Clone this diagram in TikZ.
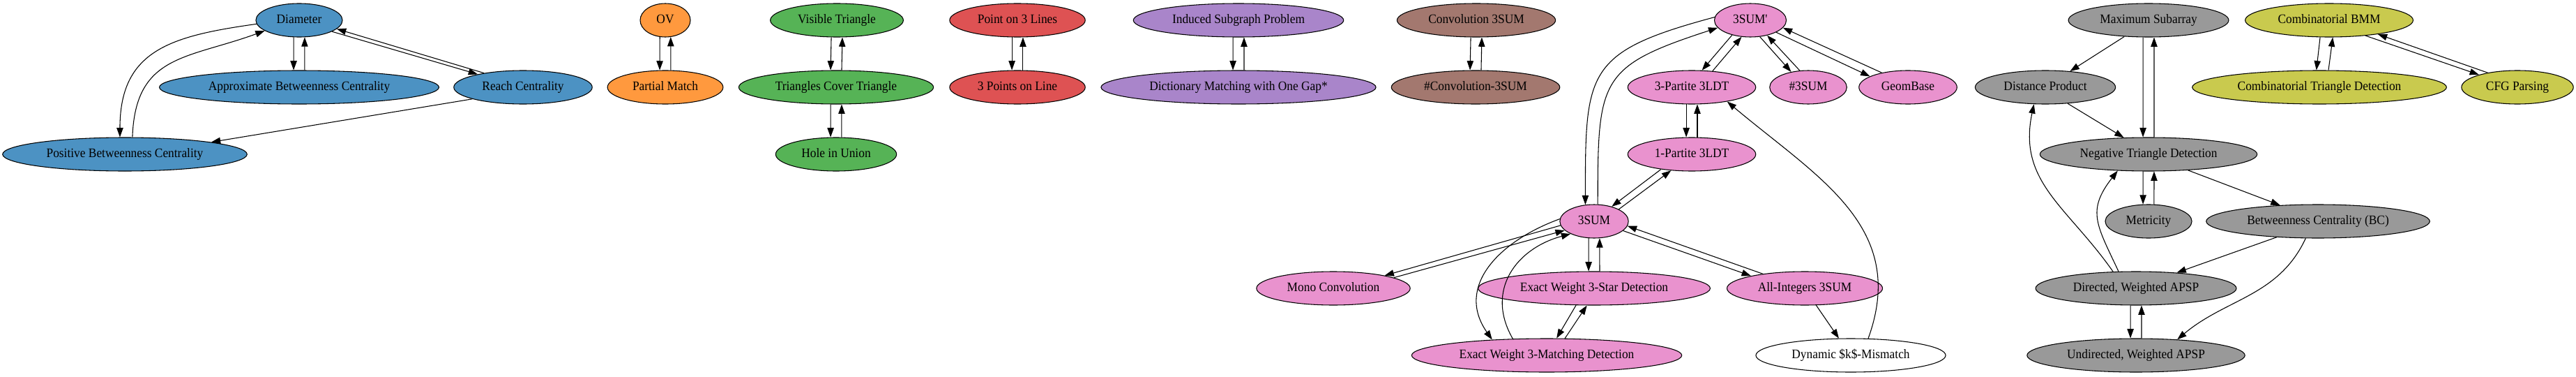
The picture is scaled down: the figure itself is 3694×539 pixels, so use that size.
\documentclass[tikz,border=0pt]{standalone}
\usepackage{fontspec}
\setmainfont{Liberation Serif}[FakeStretch=0.93]
\usetikzlibrary{shapes.geometric,arrows.meta}

\definecolor{cblue}{HTML}{4C92C3}
\definecolor{corange}{HTML}{FF993E}
\definecolor{cgreen}{HTML}{56B356}
\definecolor{cred}{HTML}{DE5253}
\definecolor{cpurple}{HTML}{A985CA}
\definecolor{cbrown}{HTML}{A3786F}
\definecolor{cpink}{HTML}{E992CE}
\definecolor{cgray}{HTML}{999999}
\definecolor{colive}{HTML}{C9CA4E}

\tikzset{
  prob/.style={ellipse, draw, line width=0.8pt, inner xsep=8.7pt, inner ysep=4pt,
    minimum width=54pt, minimum height=36pt, text height=10pt, text depth=3pt,
    font=\fontsize{14}{16}\selectfont},
  cent/.style={prob, fill=cblue},
  ovp/.style={prob, fill=corange},
  tri/.style={prob, fill=cgreen},
  geo/.style={prob, fill=cred},
  dict/.style={prob, fill=cpurple},
  conv/.style={prob, fill=cbrown},
  sum/.style={prob, fill=cpink},
  apsp/.style={prob, fill=cgray},
  bmmp/.style={prob, fill=colive},
  plain/.style={prob, fill=white},
  edge/.style={-{Triangle[length=10pt,width=7pt]}, line width=0.8pt}
}

\begin{document}
\begin{tikzpicture}[x=0.75pt,y=-0.75pt]
    \useasboundingbox (0,0) rectangle (3694,539);

    % centrality
    \node[cent] (dia) at (429,29) {Diameter};
    \node[cent] (abc) at (429,125) {Approximate Betweenness Centrality};
    \node[cent] (reach) at (750,125) {Reach Centrality};
    \node[cent] (pbc) at (179,221) {Positive Betweenness Centrality};

    \draw[edge] (dia.252) -- (abc.108);
    \draw[edge] (abc.72) -- (dia.288);
    \draw[edge] (dia.-19) -- (reach.164);
    \draw[edge] (reach.160) -- (dia.-13);
    \draw[edge] (dia.185) to[out=188,in=90,looseness=1.25] (pbc.106);
    \draw[edge] (pbc.66) to[out=88,in=200,looseness=1.25] (dia.197);
    \draw[edge] (reach.193) -- (pbc.8);

    % OV
    \node[ovp] (ov) at (954,29) {OV};
    \node[ovp] (pm) at (954,125) {Partial Match};
    \draw[edge] (ov.252) -- (pm.108);
    \draw[edge] (pm.72) -- (ov.288);

    % triangles
    \node[tri] (vt) at (1200,29) {Visible Triangle};
    \node[tri] (tct) at (1199,125) {Triangles Cover Triangle};
    \node[tri] (hiu) at (1199,221) {Hole in Union};
    \draw[edge] (vt.252) -- (tct.108);
    \draw[edge] (tct.72) -- (vt.288);
    \draw[edge] (tct.252) -- (hiu.108);
    \draw[edge] (hiu.72) -- (tct.288);

    % lines
    \node[geo] (ptl) at (1459,29) {Point on 3 Lines};
    \node[geo] (pol) at (1459,125) {3 Points on Line};
    \draw[edge] (ptl.252) -- (pol.108);
    \draw[edge] (pol.72) -- (ptl.288);

    % dictionary
    \node[dict] (isp) at (1776,29) {Induced Subgraph Problem};
    \node[dict] (dm) at (1776,125) {Dictionary Matching with One Gap*};
    \draw[edge] (isp.252) -- (dm.108);
    \draw[edge] (dm.72) -- (isp.288);

    % convolution
    \node[conv] (cs) at (2117,29) {Convolution 3SUM};
    \node[conv] (ncs) at (2116,125) {\#Convolution-3SUM};
    \draw[edge] (cs.252) -- (ncs.108);
    \draw[edge] (ncs.72) -- (cs.288);

    % 3SUM
    \node[sum] (sp) at (2510,29) {3SUM\textquotesingle};
    \node[sum] (tp) at (2426,125) {3-Partite 3LDT};
    \node[sum] (ns) at (2593,125) {\#3SUM};
    \node[sum] (gb) at (2736,125) {GeomBase};
    \node[sum] (op) at (2426,221) {1-Partite 3LDT};
    \node[sum] (s) at (2286,317) {3SUM};
    \node[sum] (mono) at (1912,413) {Mono Convolution};
    \node[sum] (star) at (2286,413) {Exact Weight 3-Star Detection};
    \node[sum] (ai) at (2588,413) {All-Integers 3SUM};
    \node[sum] (match) at (2218,509) {Exact Weight 3-Matching Detection};
    \node[plain] (dyn) at (2654,509) {Dynamic \$k\$-Mismatch};

    \draw[edge] (sp.219) -- (tp.59);
    \draw[edge] (tp.38) -- (sp.242);
    \draw[edge] (sp.300) -- (ns.138);
    \draw[edge] (ns.117) -- (sp.318);
    \draw[edge] (sp.335) -- (gb.164);
    \draw[edge] (gb.151) -- (sp.347);
    \draw[edge] (sp.175) to[out=195,in=90,looseness=1.5] (s.118);
    \draw[edge] (s.78) to[out=90,in=198,looseness=1.5] (sp.193);
    \draw[edge] (tp.252) -- (op.108);
    \draw[edge] (op.72) -- (tp.288);
    \draw[edge] (op.206) -- (s.40);
    \draw[edge] (s.26) -- (op.218);
    \draw[edge] (s.187) -- (mono.14);
    \draw[edge] (mono.10) -- (s.197);
    \draw[edge] (s.252) -- (star.108);
    \draw[edge] (star.72) -- (s.288);
    \draw[edge] (s.342) -- (ai.167);
    \draw[edge] (ai.161) -- (s.352);
    \draw[edge] (s.176) to[out=200,in=125,looseness=1.2] (match.164);
    \draw[edge] (match.154) to[out=120,in=195,looseness=1.2] (s.208);
    \draw[edge] (star.223) -- (match.60);
    \draw[edge] (match.43) -- (star.247);
    \draw[edge] (ai.304) -- (dyn.125);
    \draw[edge] (dyn.44) to[out=70,in=-40,looseness=1.1] (tp.338);

    % APSP
    \node[apsp] (ms) at (3081,29) {Maximum Subarray};
    \node[apsp] (dp) at (2933,125) {Distance Product};
    \node[apsp] (ntd) at (3081,221) {Negative Triangle Detection};
    \node[apsp] (met) at (3081,317) {Metricity};
    \node[apsp] (bc) at (3324,317) {Betweenness Centrality (BC)};
    \node[apsp] (dw) at (3063,413) {Directed, Weighted APSP};
    \node[apsp] (uw) at (3063,509) {Undirected, Weighted APSP};

    \draw[edge] (ms.214) -- (dp.33);
    \draw[edge] (ms.252) -- (ntd.108);
    \draw[edge] (ntd.72) -- (ms.288);
    \draw[edge] (dp.324) -- (ntd.146);
    \draw[edge] (ntd.252) -- (met.108);
    \draw[edge] (met.72) -- (ntd.288);
    \draw[edge] (ntd.338) -- (bc.157);
    \draw[edge] (bc.201) -- (dw.21);
    \draw[edge] (bc.234) to[out=245,in=40] (uw.21);
    \draw[edge] (dw.252) -- (uw.108);
    \draw[edge] (uw.72) -- (dw.288);
    \draw[edge] (dw.144) to[out=125,in=258,looseness=1.1] (dp.236);
    \draw[edge] (dw.136) to[out=115,in=232,looseness=1.3] (ntd.208);

    % BMM
    \node[bmmp] (bmm) at (3340,29) {Combinatorial BMM};
    \node[bmmp] (ctd) at (3326,125) {Combinatorial Triangle Detection};
    \node[bmmp] (cfg) at (3610,125) {CFG Parsing};
    \draw[edge] (bmm.242) -- (ctd.100);
    \draw[edge] (ctd.62) -- (bmm.282);
    \draw[edge] (bmm.337) -- (cfg.162);
    \draw[edge] (cfg.154) -- (bmm.344);

\end{tikzpicture}
\end{document}
